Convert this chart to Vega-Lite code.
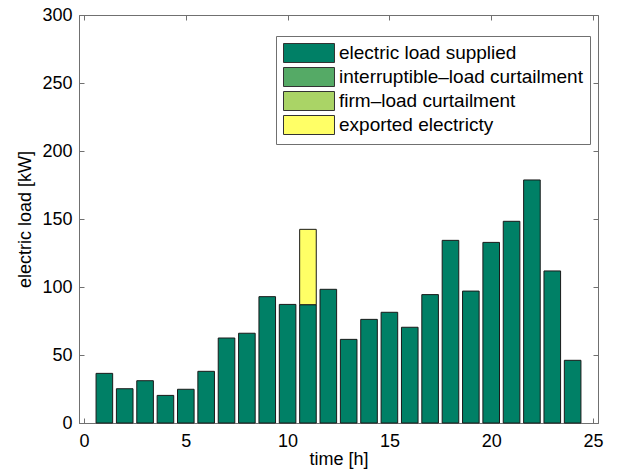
{
  "$schema": "https://vega.github.io/schema/vega-lite/v6.json",
  "autosize": {"type": "none"},
  "padding": {"left": 79, "top": 15, "right": 20, "bottom": 51},
  "width": 519,
  "height": 408,
  "config": {
    "font": "Liberation Sans",
    "view": {"stroke": "#707070", "strokeWidth": 1},
    "axis": {
      "domainColor": "#707070",
      "tickColor": "#707070",
      "grid": false,
      "labelFont": "Liberation Sans",
      "labelFontSize": 18,
      "labelColor": "#000000",
      "titleFont": "Liberation Sans",
      "titleFontSize": 18,
      "titleFontWeight": "normal",
      "titleColor": "#000000",
      "tickSize": -5
    }
  },
  "data": {
    "values": [
      {"t": 1, "type": "electric load supplied", "load": 36.5},
      {"t": 2, "type": "electric load supplied", "load": 25.2},
      {"t": 3, "type": "electric load supplied", "load": 31.1},
      {"t": 4, "type": "electric load supplied", "load": 20.3},
      {"t": 5, "type": "electric load supplied", "load": 24.8},
      {"t": 6, "type": "electric load supplied", "load": 38.0},
      {"t": 7, "type": "electric load supplied", "load": 62.5},
      {"t": 8, "type": "electric load supplied", "load": 66.0},
      {"t": 9, "type": "electric load supplied", "load": 92.9},
      {"t": 10, "type": "electric load supplied", "load": 87.2},
      {"t": 11, "type": "electric load supplied", "load": 87.0},
      {"t": 11, "type": "exported electricty", "load": 55.4},
      {"t": 12, "type": "electric load supplied", "load": 98.3},
      {"t": 13, "type": "electric load supplied", "load": 61.5},
      {"t": 14, "type": "electric load supplied", "load": 76.2},
      {"t": 15, "type": "electric load supplied", "load": 81.4},
      {"t": 16, "type": "electric load supplied", "load": 70.4},
      {"t": 17, "type": "electric load supplied", "load": 94.4},
      {"t": 18, "type": "electric load supplied", "load": 134.3},
      {"t": 19, "type": "electric load supplied", "load": 97.0},
      {"t": 20, "type": "electric load supplied", "load": 132.8},
      {"t": 21, "type": "electric load supplied", "load": 148.3},
      {"t": 22, "type": "electric load supplied", "load": 178.7},
      {"t": 23, "type": "electric load supplied", "load": 111.8},
      {"t": 24, "type": "electric load supplied", "load": 46.1}
    ]
  },
  "layer": [
    {
      "mark": {"type": "bar", "size": 16.6, "stroke": "#1a1a1a", "strokeWidth": 1},
      "encoding": {
        "x": {
          "field": "t", "type": "quantitative",
          "scale": {"domain": [0, 25], "nice": false},
          "axis": {"values": [0, 5, 10, 15, 20, 25], "title": "time [h]", "labelPadding": 14, "titlePadding": 0}
        },
        "y": {
          "field": "load", "type": "quantitative", "stack": "zero",
          "scale": {"domain": [0, 300], "nice": false},
          "axis": {"values": [0, 50, 100, 150, 200, 250, 300], "title": "electric load [kW]", "labelPadding": 12, "titlePadding": 7}
        },
        "color": {
          "field": "type", "type": "nominal",
          "sort": ["electric load supplied", "interruptible–load curtailment", "firm–load curtailment", "exported electricty"],
          "scale": {
            "domain": ["electric load supplied", "interruptible–load curtailment", "firm–load curtailment", "exported electricty"],
            "range": ["#008066", "#55aa66", "#aad466", "#ffff66"]
          },
          "legend": {
            "title": null,
            "orient": "none",
            "legendX": 197,
            "legendY": 21,
            "symbolType": "M-1,-1H4.368V1H-1Z",
            "symbolSize": 361,
            "symbolStrokeColor": "#333333",
            "symbolStrokeWidth": 1,
            "symbolOpacity": 1,
            "labelFontSize": 19,
            "labelFont": "Liberation Sans",
            "labelColor": "#000000",
            "labelLimit": 400,
            "rowPadding": 0,
            "labelOffset": 36,
            "padding": 7,
            "strokeColor": "#707070",
            "fillColor": "#ffffff"
          }
        },
        "order": {"field": "type", "sort": "ascending"}
      }
    },
    {
      "mark": {"type": "point", "opacity": 0},
      "encoding": {
        "x": {
          "field": "t", "type": "quantitative",
          "scale": {"domain": [0, 25], "nice": false},
          "axis": {"orient": "top", "values": [0, 5, 10, 15, 20, 25], "labels": false, "title": null, "domain": false}
        },
        "y": {
          "field": "load", "type": "quantitative",
          "scale": {"domain": [0, 300], "nice": false},
          "axis": {"orient": "right", "values": [0, 50, 100, 150, 200, 250, 300], "labels": false, "title": null, "domain": false}
        }
      }
    }
  ],
  "resolve": {"axis": {"x": "independent", "y": "independent"}}
}
